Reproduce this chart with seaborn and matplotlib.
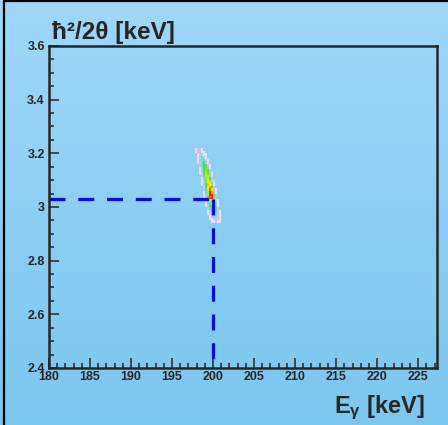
import numpy as np
import pandas as pd
import matplotlib
matplotlib.use('Agg')
import matplotlib.pyplot as plt
import seaborn as sns
from matplotlib.colors import LinearSegmentedColormap
from matplotlib.ticker import MultipleLocator, FuncFormatter

# bin centres of the 2D histogram (E_gamma in keV, hbar^2/2theta in keV)
e_centers = [197.625, 197.875, 198.125, 198.375, 198.625, 198.875, 199.125, 199.375,
             199.625, 199.875, 200.125, 200.375, 200.625, 200.875, 201.125]
y_centers = [3.215, 3.205, 3.195, 3.185, 3.175, 3.165, 3.155, 3.145, 3.135, 3.125,
             3.115, 3.105, 3.095, 3.085, 3.075, 3.065, 3.055, 3.045, 3.035, 3.025,
             3.015, 3.005, 2.995, 2.985, 2.975, 2.965, 2.955, 2.945]
# counts per row (top to bottom), trailing zeros left out
counts = [
    [0, 1, 2, 2, 1],
    [0, 1, 2, 3, 1, 1],
    [0, 0, 1, 3, 3, 1, 1],
    [0, 0, 1, 2, 4, 3, 1],
    [0, 0, 1, 3, 4, 4, 2, 1],
    [0, 0, 1, 2, 4, 6, 3, 1],
    [0, 0, 0, 2, 4, 7, 6, 2, 1],
    [0, 0, 0, 1, 3, 7, 8, 4, 1],
    [0, 0, 0, 1, 3, 7, 9, 6, 2],
    [0, 0, 0, 1, 2, 6, 10, 8, 3, 1],
    [0, 0, 0, 0, 2, 5, 10, 10, 4, 1],
    [0, 0, 0, 0, 1, 4, 9, 11, 7, 2],
    [0, 0, 0, 0, 1, 3, 8, 12, 10, 3, 1],
    [0, 0, 0, 0, 1, 3, 7, 13, 12, 4, 1],
    [0, 0, 0, 0, 0, 2, 6, 12, 14, 7, 2],
    [0, 0, 0, 0, 0, 2, 5, 11, 15, 11, 3, 1],
    [0, 0, 0, 0, 0, 1, 4, 10, 17, 14, 4, 1],
    [0, 0, 0, 0, 0, 1, 3, 9, 19, 18, 6, 2],
    [0, 0, 0, 0, 0, 1, 2, 7, 15, 17, 8, 2],
    [0, 0, 0, 0, 0, 0, 2, 5, 11, 13, 9, 3, 1],
    [0, 0, 0, 0, 0, 0, 1, 4, 8, 11, 9, 4, 1],
    [0, 0, 0, 0, 0, 0, 1, 3, 6, 9, 9, 5, 1],
    [0, 0, 0, 0, 0, 0, 0, 2, 4, 7, 8, 5, 2],
    [0, 0, 0, 0, 0, 0, 0, 1, 3, 5, 6, 5, 2, 1],
    [0, 0, 0, 0, 0, 0, 0, 1, 2, 3, 4, 4, 2, 1],
    [0, 0, 0, 0, 0, 0, 0, 0, 1, 2, 3, 3, 2, 1],
    [0, 0, 0, 0, 0, 0, 0, 0, 1, 1, 2, 2, 2, 1],
    [0, 0, 0, 0, 0, 0, 0, 0, 0, 1, 1, 2, 1, 1],
]

# gate marker
e_gate = 200
y_gate = 3.03

x_ticks = [180, 185, 190, 195, 200, 205, 210, 215, 220, 225]
y_ticks = [2.4, 2.6, 2.8, 3.0, 3.2, 3.4, 3.6]

# build long table
grid = np.array([r + [0] * (len(e_centers) - len(r)) for r in counts])
ee, yy = np.meshgrid(e_centers, y_centers)
df = pd.DataFrame({'E': ee.ravel(), 'Y': yy.ravel(), 'n': grid.ravel()})

sns.set_style('ticks')
plt.rcParams['font.family'] = ['Liberation Sans', 'DejaVu Sans']
plt.rcParams['font.weight'] = 'bold'
plt.rcParams['mathtext.fontset'] = 'custom'
plt.rcParams['mathtext.rm'] = 'Liberation Sans:bold'
plt.rcParams['mathtext.it'] = 'Liberation Sans:bold'
plt.rcParams['mathtext.bf'] = 'Liberation Sans:bold'

fig = plt.figure(figsize=(4.48, 4.25), dpi=100)

# background gradient
bg = fig.add_axes([0, 0, 1, 1], zorder=-10)
grad = np.linspace(0, 1, 256).reshape(-1, 1)
bg_cmap = LinearSegmentedColormap.from_list('bg', ['#9fd7f8', '#7bc6ef'])
bg.imshow(grad, aspect='auto', cmap=bg_cmap, extent=[0, 1, 0, 1])
bg.set_axis_off()

# outer frame (top & left)
fig.add_artist(plt.Line2D([4/448, 4/448], [0, 1 - 1/425], color='black', lw=1.6))
fig.add_artist(plt.Line2D([4/448, 1], [1 - 1/425, 1 - 1/425], color='black', lw=1.6))

ax = fig.add_axes([49/448, 1 - 368/425, 388/448, 322/425])
ax.set_facecolor('none')

cmap = LinearSegmentedColormap.from_list('root', [
    (0.0, '#f6f0fd'), (0.07, '#eadcfa'), (0.13, '#c9c0f4'), (0.2, '#8fd8f2'),
    (0.3, '#55e8a0'), (0.42, '#3ee23c'), (0.6, '#a8ee26'), (0.75, '#fff01e'),
    (0.88, '#ff9a14'), (1.0, '#ff1a0a')])

sns.histplot(data=df, x='E', y='Y', weights='n', binwidth=(0.25, 0.01),
             binrange=((197.5, 201.25), (2.94, 3.22)), cmap=cmap,
             vmin=0, vmax=16, edgecolor='none', linewidth=0, ax=ax)

ax.plot([180, e_gate], [y_gate, y_gate], color='#0a0aee', lw=2.3, ls=(0, (5, 4)))
ax.plot([e_gate, e_gate], [y_gate, 2.4], color='#0a0aee', lw=2.3, ls=(0, (5, 4)))

ax.set_xlim(180, 227.3)
ax.set_ylim(2.4, 3.6)
ax.set_xticks(x_ticks)
ax.set_yticks(y_ticks)
ax.xaxis.set_minor_locator(MultipleLocator(1))
ax.yaxis.set_minor_locator(MultipleLocator(0.05))
ax.yaxis.set_major_formatter(FuncFormatter(lambda v, p: '%g' % round(v, 2)))
ax.tick_params(which='major', direction='in', length=7, width=1.1, labelsize=9, pad=2)
ax.tick_params(which='minor', direction='in', length=3.8, width=1.1)
ax.tick_params(axis='y', pad=3)
for lab in ax.get_xticklabels() + ax.get_yticklabels():
    lab.set_fontweight('bold')
for s in ax.spines.values():
    s.set_linewidth(1.8)
ax.set_xlabel('')
ax.set_ylabel('')

fig.text(52/448, 1 - 39/425, 'ħ²/2θ [keV]', fontsize=17.5, fontweight='bold',
         ha='left', va='baseline')
fig.text(425/448, 1 - 413/425, r'E$_{\gamma}$ [keV]', fontsize=17, fontweight='bold',
         ha='right', va='baseline')

fig.savefig('out.png', dpi=100)
